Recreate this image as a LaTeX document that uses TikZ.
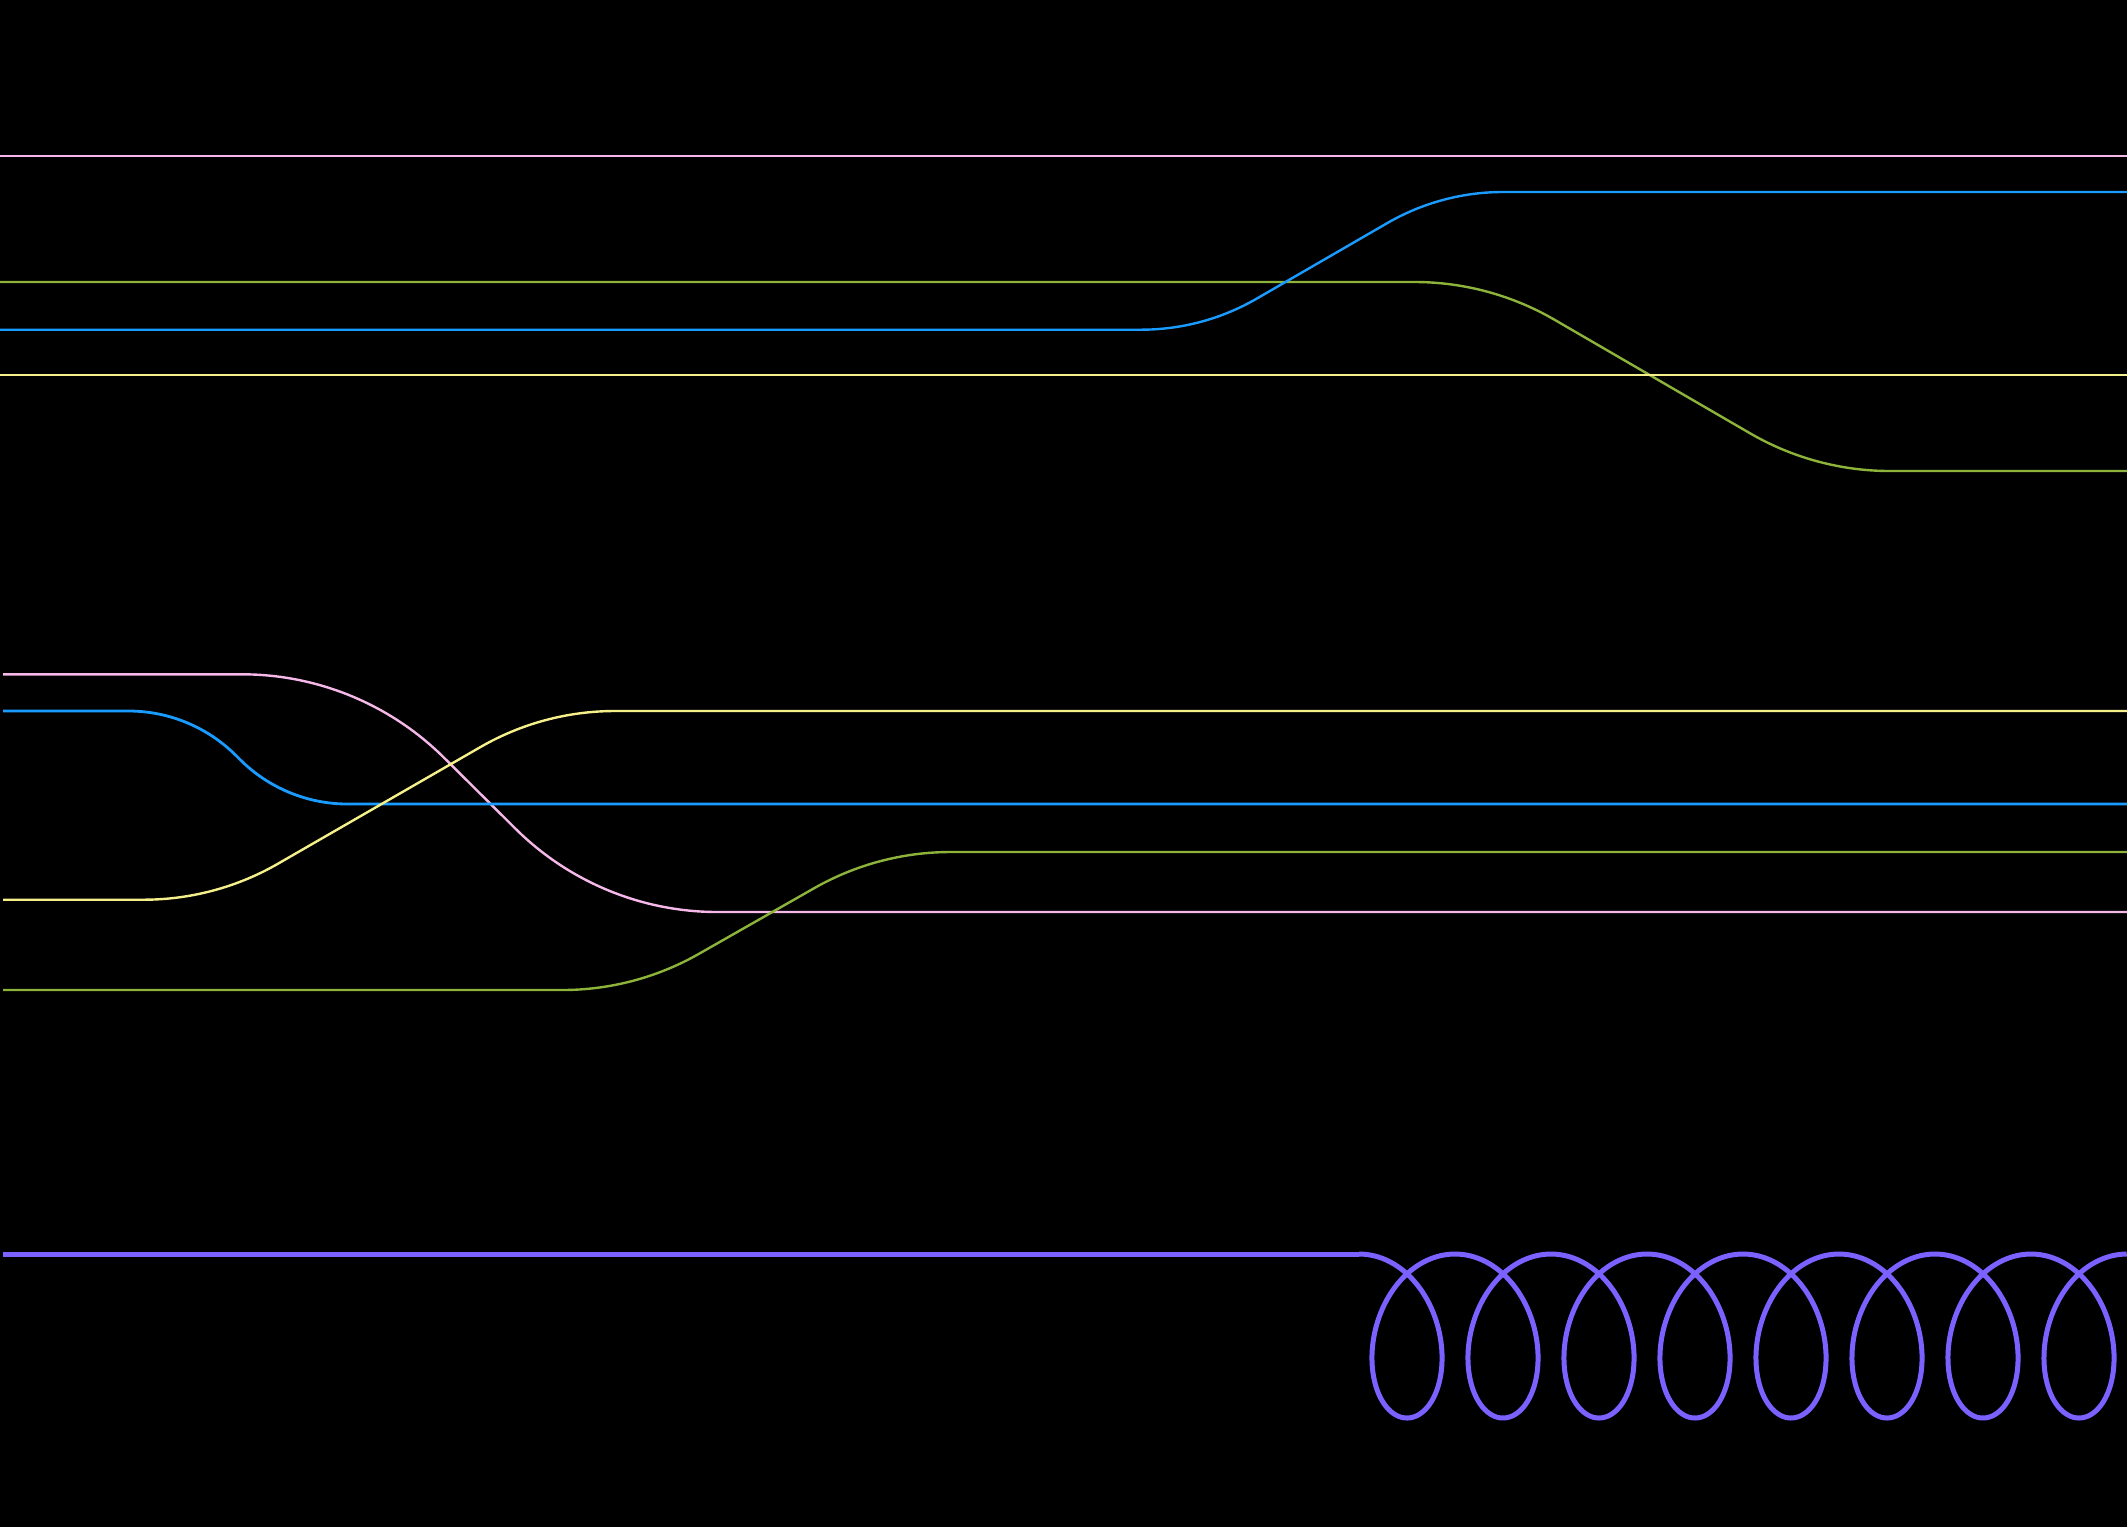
\documentclass[tikz,border=0pt]{standalone}
\usetikzlibrary{calc}
\begin{document}
\begin{tikzpicture}[x=1pt,y=-1pt,
  thinline/.style={line width=2.4pt},
  spring/.style={line width=5pt, color=springc}]
\definecolor{pinkc}{RGB}{245,184,232}
\definecolor{greenc}{RGB}{141,179,58}
\definecolor{bluec}{RGB}{26,155,255}
\definecolor{yellowc}{RGB}{245,240,138}
\definecolor{springc}{RGB}{123,97,255}
\fill[black] (0,0) rectangle (2127,1527);
\useasboundingbox (0,0) rectangle (2127,1527);
% top group
\draw[thinline, pinkc] (0,156) -- (2127,156);
% green top
\coordinate (gP) at (0,282); \coordinate (gA) at (1489.5,282);
\coordinate (gB) at (1815,471); \coordinate (gN) at (2127,471);
\draw[thinline, greenc] (gP) -- ($(gA)!75pt!(gP)$)
  .. controls ($(gA)!25.9pt!(gP)$) and ($(gA)!25.9pt!(gB)$) .. ($(gA)!75pt!(gB)$)
  -- ($(gB)!75pt!(gA)$)
  .. controls ($(gB)!25.9pt!(gA)$) and ($(gB)!25.9pt!(gN)$) .. ($(gB)!75pt!(gN)$)
  -- (gN);
% blue top
\coordinate (bP) at (0,329.7); \coordinate (bA) at (1203,329.7);
\coordinate (bB) at (1441,192); \coordinate (bN) at (2127,192);
\draw[thinline, bluec] (bP) -- ($(bA)!62pt!(bP)$)
  .. controls ($(bA)!21.4pt!(bP)$) and ($(bA)!21.4pt!(bB)$) .. ($(bA)!62pt!(bB)$)
  -- ($(bB)!62pt!(bA)$)
  .. controls ($(bB)!21.4pt!(bA)$) and ($(bB)!21.4pt!(bN)$) .. ($(bB)!62pt!(bN)$)
  -- (bN);
\draw[thinline, yellowc] (0,375) -- (2127,375);
% middle group
% pink
\coordinate (pP) at (3,674.3); \coordinate (pA) at (360,674.3);
\coordinate (pB) at (599.4,912); \coordinate (pN) at (2127,912);
\draw[thinline, pinkc] (pP) -- ($(pA)!118pt!(pP)$)
  .. controls ($(pA)!42.5pt!(pP)$) and ($(pA)!42.5pt!(pB)$) .. ($(pA)!118pt!(pB)$)
  -- ($(pB)!118pt!(pA)$)
  .. controls ($(pB)!42.5pt!(pA)$) and ($(pB)!42.5pt!(pN)$) .. ($(pB)!118pt!(pN)$)
  -- (pN);
% blue
\coordinate (mP) at (3,711); \coordinate (mA) at (191.5,711);
\coordinate (mB) at (284.5,804); \coordinate (mN) at (2127,804);
\draw[thinline, bluec, line width=2.8pt] (mP) -- ($(mA)!63pt!(mP)$)
  .. controls ($(mA)!22.7pt!(mP)$) and ($(mA)!22.7pt!(mB)$) .. ($(mA)!63pt!(mB)$)
  -- ($(mB)!63pt!(mA)$)
  .. controls ($(mB)!22.7pt!(mA)$) and ($(mB)!22.7pt!(mN)$) .. ($(mB)!63pt!(mN)$)
  -- (mN);
% yellow
\coordinate (yP) at (3,899.7); \coordinate (yA) at (215.5,899.7);
\coordinate (yB) at (543,711); \coordinate (yN) at (2127,711);
\draw[thinline, yellowc] (yP) -- ($(yA)!72pt!(yP)$)
  .. controls ($(yA)!24.8pt!(yP)$) and ($(yA)!24.8pt!(yB)$) .. ($(yA)!72pt!(yB)$)
  -- ($(yB)!72pt!(yA)$)
  .. controls ($(yB)!24.8pt!(yA)$) and ($(yB)!24.8pt!(yN)$) .. ($(yB)!72pt!(yN)$)
  -- (yN);
% green
\coordinate (hP) at (3,990); \coordinate (hA) at (635.4,990);
\coordinate (hB) at (877.7,852); \coordinate (hN) at (2127,852);
\draw[thinline, greenc] (hP) -- ($(hA)!73pt!(hP)$)
  .. controls ($(hA)!25.2pt!(hP)$) and ($(hA)!25.2pt!(hB)$) .. ($(hA)!73pt!(hB)$)
  -- ($(hB)!73pt!(hA)$)
  .. controls ($(hB)!25.2pt!(hA)$) and ($(hB)!25.2pt!(hN)$) .. ($(hB)!73pt!(hN)$)
  -- (hN);
% spring
\coordinate (s0) at (3,1254);
\coordinate (s1) at (1359,1254);
\draw[spring] (s0) -- (s1);
\draw[spring] plot[domain=0:50.2655, samples=900, variable=\t, smooth]
  ({1359+15.279*\t+57*sin(\t r)}, {1336-82*cos(\t r)});
\end{tikzpicture}
\end{document}
